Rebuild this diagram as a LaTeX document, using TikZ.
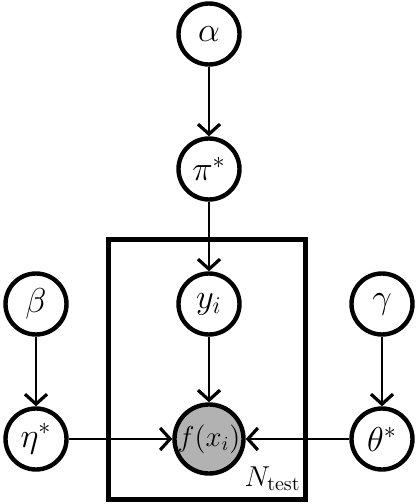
\documentclass[tikz,border=0pt]{standalone}
\usetikzlibrary{positioning,arrows.meta}

\begin{document}
\begin{tikzpicture}
[
  latent/.style={circle, draw, line width=2.2pt, minimum size=30.5pt, inner sep=0pt},
  observed/.style={latent, fill=black!30},
  plate/.style={draw, line width=2.5pt},
  link/.style={-{Straight Barb[length=5pt,width=11pt,line width=1.6pt]}, line width=1pt},
  node distance=67.5pt and 86.5pt,
  on grid,
  font=\fontsize{17}{20}\selectfont
]
 \node[latent] (alpha) {$\alpha$};
 \node[latent] (pi) [below=of alpha] {$\pi^*$};
 \node[latent] (y) [below=of pi] {$y_i$};
 \node[observed,font=\fontsize{14}{16}\selectfont] (f) [below=of y] {$f(x_i)$};
 \node[latent] (beta) [left=of y] {$\beta$};
 \node[latent] (eta) [below=of beta] {$\eta^*$};
 \node[latent] (gamma) [right=of y] {$\gamma$};
 \node[latent] (theta) [below=of gamma] {$\theta^*$};

 % plate around y and f
 \draw[plate] ([shift={(-50pt,32.5pt)}]y.center) rectangle ([shift={(48pt,-30pt)}]f.center);
 \node[anchor=base east,inner sep=0pt,font=\fontsize{14.5}{17}\selectfont] (ntest) at ([shift={(46pt,-23.5pt)}]f.center) {$N_{\mathrm{test}}$};

  \path[link]
    (alpha) edge (pi)
    (pi) edge (y)
    (y) edge (f)
    (beta) edge (eta)
    (gamma) edge (theta)
    (eta) edge (f)
    (theta) edge (f);

 \useasboundingbox ([shift={(-104.5pt,17pt)}]alpha.center) rectangle ([shift={(103.5pt,-235pt)}]alpha.center);
\end{tikzpicture}
\end{document}
